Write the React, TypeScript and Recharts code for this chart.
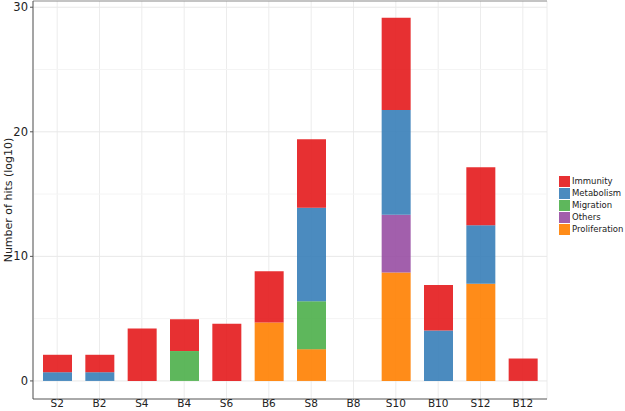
import { BarChart, Bar, XAxis, YAxis, CartesianGrid, ReferenceLine, Label } from 'recharts';

const samples = ['S2', 'B2', 'S4', 'B4', 'S6', 'B6', 'S8', 'B8', 'S10', 'B10', 'S12', 'B12'];

// stacked bottom -> top: proliferation, others, migration, metabolism, immunity
const proliferation = [0, 0, 0, 0, 0, 4.7, 2.55, 0, 8.7, 0, 7.8, 0];
const others = [0, 0, 0, 0, 0, 0, 0, 0, 4.65, 0, 0, 0];
const migration = [0, 0, 0, 2.4, 0, 0, 3.85, 0, 0, 0, 0, 0];
const metabolism = [0.7, 0.7, 0, 0, 0, 0, 7.5, 0, 8.4, 4.05, 4.7, 0];
const immunity = [1.4, 1.4, 4.2, 2.56, 4.6, 4.1, 5.5, 0, 7.4, 3.65, 4.65, 1.8];

const yTicks = [0, 10, 20, 30];
const minorTicks = [5, 15, 25];

const legendItems = [
  { name: 'Immunity', color: '#E41A1C' },
  { name: 'Metabolism', color: '#377EB8' },
  { name: 'Migration', color: '#4DAF4A' },
  { name: 'Others', color: '#984EA3' },
  { name: 'Proliferation', color: '#FF7F00' },
];

const data = samples.map((s, i) => ({
  name: s,
  proliferation: proliferation[i],
  others: others[i],
  migration: migration[i],
  metabolism: metabolism[i],
  immunity: immunity[i],
}));

const FONT = '"DejaVu Sans", sans-serif';

export default function App() {
  return (
    <div style={{ position: 'absolute', left: 0, top: 0, width: 625, height: 411, background: '#fff', overflow: 'hidden' }}>
      <BarChart
        width={625}
        height={411}
        data={data}
        margin={{ top: 1, right: 78, bottom: 0, left: 0 }}
      >
        <CartesianGrid horizontal={false} stroke="#ececec" />
        <CartesianGrid vertical={false} horizontalValues={minorTicks} stroke="#f4f4f4" />
        <CartesianGrid vertical={false} horizontalValues={yTicks} stroke="#e8e8e8" />
        <ReferenceLine y={30.5} stroke="#8a8a8a" strokeWidth={1.2} />
        <XAxis
          dataKey="name"
          height={12}
          padding={{ left: 3, right: 3 }}
          interval={0}
          tickSize={1}
          tickMargin={0}
          stroke="#555"
          tick={{ fontSize: 10.5, fill: '#222', fontFamily: FONT }}
        />
        <YAxis
          width={33}
          domain={[-1.45, 30.5]}
          ticks={yTicks}
          allowDataOverflow
          tickSize={3}
          tickMargin={2}
          stroke="#555"
          tick={{ fontSize: 11.5, fill: '#222', fontFamily: FONT }}
        >
          <Label
            content={() => (
              <text
                x={8}
                y={200}
                transform="rotate(-90, 8, 200)"
                textAnchor="middle"
                dominantBaseline="central"
                style={{ fontSize: 11, fill: '#222', fontFamily: FONT }}
              >
                Number of hits (log10)
              </text>
            )}
          />
        </YAxis>
        <YAxis
          yAxisId="right"
          orientation="right"
          width={0}
          domain={[-1.45, 30.5]}
          tick={false}
          tickLine={false}
          stroke="#8a8a8a"
        />
        <Bar dataKey="proliferation" name="Proliferation" stackId="a" fill="#FF7F00" fillOpacity={0.9} barSize={29} isAnimationActive={false} />
        <Bar dataKey="others" name="Others" stackId="a" fill="#984EA3" fillOpacity={0.9} barSize={29} isAnimationActive={false} />
        <Bar dataKey="migration" name="Migration" stackId="a" fill="#4DAF4A" fillOpacity={0.9} barSize={29} isAnimationActive={false} />
        <Bar dataKey="metabolism" name="Metabolism" stackId="a" fill="#377EB8" fillOpacity={0.9} barSize={29} isAnimationActive={false} />
        <Bar dataKey="immunity" name="Immunity" stackId="a" fill="#E41A1C" fillOpacity={0.9} barSize={29} isAnimationActive={false} />
      </BarChart>
      <div style={{ position: 'absolute', left: 559, top: 175, fontFamily: FONT, fontSize: 8.5, color: '#222', whiteSpace: 'nowrap' }}>
        {legendItems.map((it) => (
          <div key={it.name} style={{ display: 'flex', alignItems: 'center', height: 12 }}>
            <span style={{ width: 11, height: 11, background: it.color, opacity: 0.9, marginRight: 2, flex: 'none' }} />
            <span>{it.name}</span>
          </div>
        ))}
      </div>
    </div>
  );
}
